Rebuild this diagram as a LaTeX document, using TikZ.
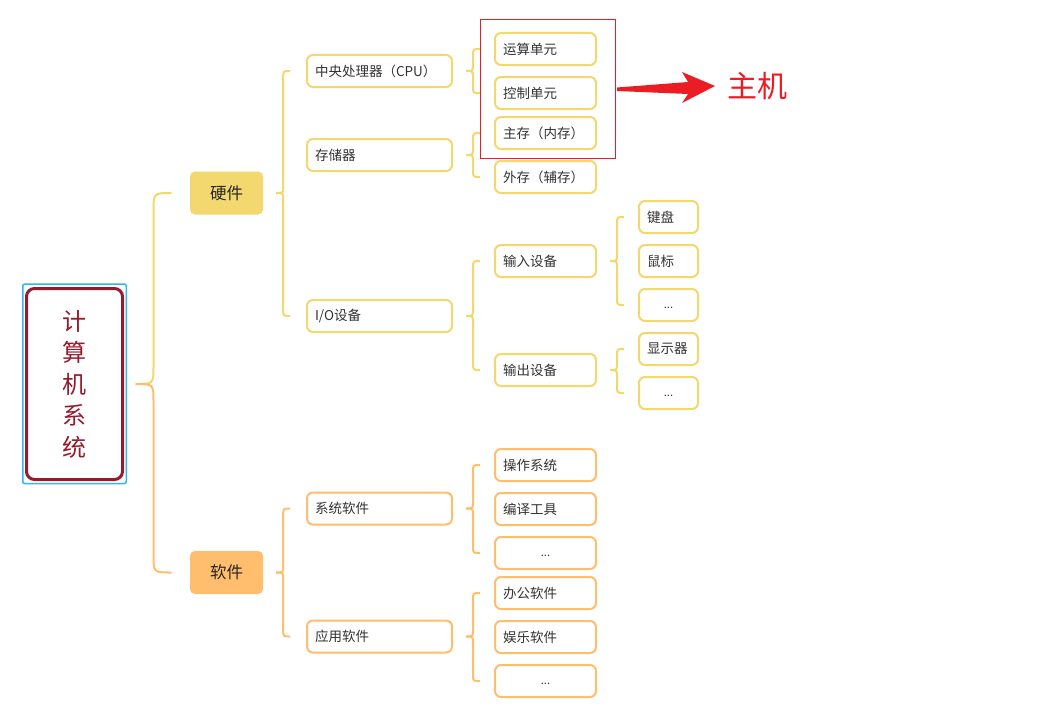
\documentclass[tikz,border=0pt]{standalone}
\usepackage{fontspec}
\setmainfont{Noto Sans CJK SC}
\usetikzlibrary{calc}
\definecolor{hwyellow}{HTML}{F2D86E}
\definecolor{sworange}{HTML}{FFBE6E}
\definecolor{rootred}{HTML}{951B2E}
\definecolor{selblue}{HTML}{33B5EE}
\definecolor{hostred}{HTML}{EC1C24}
\definecolor{inktext}{HTML}{333333}
\tikzset{
  leaf/.style={draw, line width=2pt, rounded corners=6pt, fill=white, text=inktext,
    font=\fontsize{13.5}{16}\selectfont, minimum height=32pt, inner ysep=0pt,
    inner xsep=8pt, anchor=west, align=left},
  hwleaf/.style={leaf, draw=hwyellow},
  swleaf/.style={leaf, draw=sworange},
  lvtwo/.style={text width=129pt},
  lvthree/.style={text width=85pt},
  lvfour/.style={text width=43pt},
  moreitem/.style={align=center, font=\fontsize{11}{13}\selectfont,
    text height=7pt, text depth=0pt},
  kind/.style={rounded corners=5pt, text=black!85, font=\fontsize{16.5}{20}\selectfont,
    minimum width=73pt, minimum height=43pt, inner sep=0pt},
  twig/.style={line width=2pt}
}
\newcommand\branch[6]{%
  \draw[twig,#2] let \p1=($(#4.east)+(13,0)$), \p2=(#5.west) in
    (\p1) .. controls (\x1+#1pt,\y1) .. (\x1+#1pt,\y1+#1pt) -- (\x1+#1pt,\y2-#1pt)
    .. controls (\x1+#1pt,\y2) .. (\x1+2*#1pt,\y2);
  \draw[twig,#3] let \p1=($(#4.east)+(13,0)$), \p3=(#6.west) in
    (\p1) .. controls (\x1+#1pt,\y1) .. (\x1+#1pt,\y1-#1pt) -- (\x1+#1pt,\y3+#1pt)
    .. controls (\x1+#1pt,\y3) .. (\x1+2*#1pt,\y3);
}
\begin{document}
\begin{tikzpicture}[x=1pt, y=-1pt]
  \path[use as bounding box, fill=white] (0,0) rectangle (1040,717);
  \def\xa{306}\def\xb{494}\def\xc{638}
  \node[draw=rootred, line width=3pt, rounded corners=8pt, minimum width=96pt,
    minimum height=191pt, text=rootred, font=\fontsize{24}{31.5}\selectfont,
    align=center, outer sep=0pt] (root) at (74.5,384) {计\\算\\机\\系\\统};
  \draw[selblue, line width=1.5pt, rounded corners=2pt]
    ([shift={(-3.75,-4.5)}]root.north west) rectangle ([shift={(3.75,4)}]root.south east);
  \node[kind, fill=hwyellow] (hw) at (226.5,193) {硬件};
  \node[kind, fill=sworange] (sw) at (226.5,572.5) {软件};
  \node[hwleaf, lvtwo] (cpu) at (\xa,71) {中央处理器（CPU）};
  \node[hwleaf, lvtwo] (mem) at (\xa,155) {存储器};
  \node[hwleaf, lvtwo] (io) at (\xa,316) {I/O设备};
  \node[swleaf, lvtwo] (syssw) at (\xa,508.5) {系统软件};
  \node[swleaf, lvtwo] (appsw) at (\xa,636.5) {应用软件};
  \node[hwleaf, lvthree] (alu) at (\xb,49) {运算单元};
  \node[hwleaf, lvthree] (cu) at (\xb,93) {控制单元};
  \node[hwleaf, lvthree] (ram) at (\xb,133) {主存（内存）};
  \node[hwleaf, lvthree] (disk) at (\xb,177) {外存（辅存）};
  \node[hwleaf, lvthree] (input) at (\xb,261) {输入设备};
  \node[hwleaf, lvthree] (output) at (\xb,370) {输出设备};
  \node[swleaf, lvthree] (os) at (\xb,465) {操作系统};
  \node[swleaf, lvthree] (compiler) at (\xb,509) {编译工具};
  \node[swleaf, lvthree, moreitem] (sysmore) at (\xb,553) {...};
  \node[swleaf, lvthree] (office) at (\xb,593) {办公软件};
  \node[swleaf, lvthree] (game) at (\xb,637) {娱乐软件};
  \node[swleaf, lvthree, moreitem] (appmore) at (\xb,681) {...};
  \node[hwleaf, lvfour] (kbd) at (\xc,217) {键盘};
  \node[hwleaf, lvfour] (mouse) at (\xc,261) {鼠标};
  \node[hwleaf, lvfour, moreitem] (inmore) at (\xc,305) {...};
  \node[hwleaf, lvfour] (screen) at (\xc,349) {显示器};
  \node[hwleaf, lvfour, moreitem] (outmore) at (\xc,393) {...};
  \branch{18}{hwyellow}{sworange}{root}{hw}{sw}
  \branch{7}{hwyellow}{hwyellow}{hw}{cpu}{io}
  \branch{7}{sworange}{sworange}{sw}{syssw}{appsw}
  \branch{7}{hwyellow}{hwyellow}{cpu}{alu}{cu}
  \branch{7}{hwyellow}{hwyellow}{mem}{ram}{disk}
  \branch{7}{hwyellow}{hwyellow}{io}{input}{output}
  \branch{7}{sworange}{sworange}{syssw}{os}{sysmore}
  \branch{7}{sworange}{sworange}{appsw}{office}{appmore}
  \branch{7}{hwyellow}{hwyellow}{input}{kbd}{inmore}
  \branch{7}{hwyellow}{hwyellow}{output}{screen}{outmore}
  \node[draw=hostred, line width=1pt, minimum width=135pt, minimum height=138pt,
    inner sep=0pt, outer sep=0pt] (hostbox) at (547.5,89) {};
  \coordinate (tip) at (715,86);
  \node[text=hostred, font=\fontsize{30}{34}\selectfont, inner sep=0pt] (host) at (757,86) {主机};
  \fill[hostred] let \p1=(hostbox.east), \p2=(tip) in
    (\x1+2pt,\y1+1.5pt) -- (\x2-27pt,\y2+4pt) -- (\x2-33pt,\y2+14pt) -- (\p2)
    -- (\x2-33pt,\y2-17pt) -- (\x2-27pt,\y2-8pt) -- (\x1+2pt,\y1-2pt) -- cycle;
\end{tikzpicture}
\end{document}
